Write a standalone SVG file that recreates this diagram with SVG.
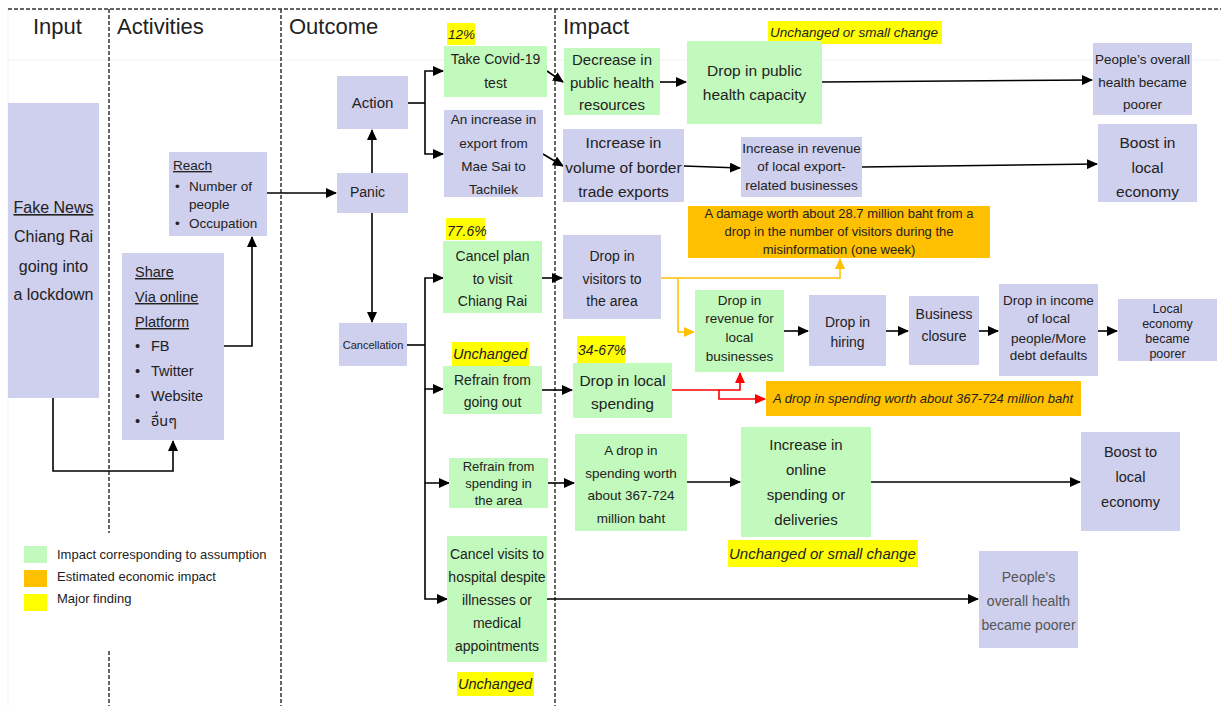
<svg xmlns="http://www.w3.org/2000/svg" width="1221" height="706" viewBox="0 0 1221 706">
<style>
text{font-family:"Liberation Sans","Noto Sans",sans-serif;fill:#222}
.m{text-anchor:middle}
.it{font-style:italic}
.u{text-decoration:underline}
.p{fill:#CFCFEE}
.g{fill:#C2F9BC}
.o{fill:#FFC000}
.y{fill:#FFFF00}
.d{stroke:#333;stroke-width:1.5;stroke-dasharray:4 2;fill:none}
.f{stroke:#f2f2f2;stroke-width:1;fill:none}
.k{stroke:#000;stroke-width:1.6;fill:none;marker-end:url(#ak)}
.ko{stroke:#000;stroke-width:1.6;fill:none}
.or{stroke:#FFC000;stroke-width:1.6;fill:none;marker-end:url(#ao)}
.ok{stroke:#FFC000;stroke-width:1.6;fill:none}
.r{stroke:#FF0000;stroke-width:1.6;fill:none;marker-end:url(#ar)}
.h{font-size:22px}
</style>
<defs>
<marker id="ak" markerUnits="userSpaceOnUse" markerWidth="11" markerHeight="10" refX="10" refY="5" orient="auto"><path d="M0,0 L11,5 L0,10 z" fill="#000"/></marker>
<marker id="ao" markerUnits="userSpaceOnUse" markerWidth="11" markerHeight="10" refX="10" refY="5" orient="auto"><path d="M0,0 L11,5 L0,10 z" fill="#FFC000"/></marker>
<marker id="ar" markerUnits="userSpaceOnUse" markerWidth="11" markerHeight="10" refX="10" refY="5" orient="auto"><path d="M0,0 L11,5 L0,10 z" fill="#FF0000"/></marker>
</defs>
<rect width="1221" height="706" fill="#fff"/>
<g id="grid">
<path class="f" d="M8,60 H1221 M8,9 V706"/>
<path class="d" d="M8,9 H1221"/>
<path class="d" d="M109,9 V533 M109,651 V706"/>
<path class="d" d="M281,9 V706"/>
<path class="d" d="M555,9 V706"/>
<text class="h" x="33" y="34">Input</text>
<text class="h" x="117" y="34">Activities</text>
<text class="h" x="289" y="34">Outcome</text>
<text class="h" x="563" y="34">Impact</text>
</g>
<g id="legend">
<rect class="g" x="24" y="546" width="23" height="17"/>
<rect class="o" x="24" y="570" width="23" height="17"/>
<rect class="y" x="24" y="594" width="23" height="17"/>
<text x="57" y="559" font-size="13">Impact corresponding to assumption</text>
<text x="57" y="581" font-size="13">Estimated economic impact</text>
<text x="57" y="603" font-size="13">Major finding</text>
</g>
<g id="connectors">
<path class="k" d="M53,398 V471 H173 V441"/>
<path class="k" d="M224,346 H252 V237"/>
<path class="k" d="M267,193 H336"/>
<path class="k" d="M372,173 V130"/>
<path class="k" d="M372,213 V322"/>
<path class="ko" d="M408,103 H425"/>
<path class="k" d="M425,103 V71 H443"/>
<path class="k" d="M425,103 V154 H443"/>
<path class="k" d="M547,71 L563,82"/>
<path class="k" d="M543,154 L563,166"/>
<path class="k" d="M660,82 H686"/>
<path class="k" d="M822,82 L1092,80"/>
<path class="k" d="M684,166 L740,168"/>
<path class="k" d="M862,167 L1097,164"/>
<path class="ko" d="M407,345 H425"/>
<path class="k" d="M425,345 V278 H443"/>
<path class="k" d="M425,345 V389 H443"/>
<path class="k" d="M425,389 V483 H449"/>
<path class="k" d="M425,483 V599 H447"/>
<path class="k" d="M542,278 H562"/>
<path class="or" d="M661,278 H840 V259"/>
<path class="ok" d="M678,278 V332"/>
<path class="or" d="M678,332 H694"/>
<path class="k" d="M784,331 H808"/>
<path class="k" d="M886,331 H908"/>
<path class="k" d="M979,331 H998"/>
<path class="k" d="M1098,331 H1117"/>
<path class="k" d="M542,390 H572"/>
<path class="r" d="M672,390 H740 V373"/>
<path class="r" d="M719,390 V399 H765"/>
<path class="k" d="M548,483 H574"/>
<path class="k" d="M687,482 H740"/>
<path class="k" d="M871,482 H1080"/>
<path class="k" d="M547,599 H978"/>
</g>
<g id="fake-news">
<rect class="p" x="8" y="103" width="91" height="295"/>
<text class="m u" x="53.5" y="213" font-size="16">Fake News</text>
<text class="m" x="53.5" y="242" font-size="16">Chiang Rai</text>
<text class="m" x="53.5" y="272" font-size="16">going into</text>
<text class="m" x="53.5" y="300" font-size="16">a lockdown</text>
</g>
<g id="reach">
<rect class="p" x="169" y="152" width="98" height="84"/>
<text class="u" x="173" y="170" font-size="13.5">Reach</text>
<text x="175" y="191" font-size="13.5">•</text>
<text x="189" y="191" font-size="13.5">Number of</text>
<text x="189" y="209" font-size="13.5">people</text>
<text x="175" y="228" font-size="13.5">•</text>
<text x="189" y="228" font-size="13.5">Occupation</text>
</g>
<g id="share">
<rect class="p" x="122" y="253" width="102" height="187"/>
<text class="u" x="135" y="277" font-size="14.5">Share</text>
<text class="u" x="135" y="302" font-size="14.5">Via online</text>
<text class="u" x="135" y="327" font-size="14.5">Platform</text>
<text x="135" y="351" font-size="14.5">•</text>
<text x="151" y="351" font-size="14.5">FB</text>
<text x="135" y="376" font-size="14.5">•</text>
<text x="151" y="376" font-size="14.5">Twitter</text>
<text x="135" y="401" font-size="14.5">•</text>
<text x="151" y="401" font-size="14.5">Website</text>
<text x="135" y="426" font-size="14.5">•</text>
<text x="151" y="426" font-size="14.5" style="font-family:'Noto Sans Thai','Liberation Sans',sans-serif">อื่นๆ</text>
</g>
<g id="action">
<rect class="p" x="337" y="76" width="71" height="53"/>
<text class="m" x="372.5" y="108" font-size="15">Action</text>
</g>
<g id="panic">
<rect class="p" x="337" y="173" width="71" height="40"/>
<text x="350" y="197" font-size="14">Panic</text>
</g>
<g id="cancellation">
<rect class="p" x="339" y="323" width="68" height="43"/>
<text class="m" x="373" y="349" font-size="11">Cancellation</text>
</g>
<g id="covid-test">
<rect class="y" x="447" y="23" width="28" height="22"/>
<text class="it" x="448" y="39" font-size="13.5">12%</text>
<rect class="g" x="444" y="46" width="103" height="51"/>
<text class="m" x="495.5" y="64" font-size="14">Take Covid-19</text>
<text class="m" x="495.5" y="88" font-size="14">test</text>
</g>
<g id="export">
<rect class="p" x="444" y="110" width="99" height="87"/>
<text class="m" x="493.5" y="124" font-size="13.5">An increase in</text>
<text class="m" x="493.5" y="148" font-size="13.5">export from</text>
<text class="m" x="493.5" y="171" font-size="13.5">Mae Sai to</text>
<text class="m" x="493.5" y="194" font-size="13.5">Tachilek</text>
</g>
<g id="decrease-resources">
<rect class="g" x="564" y="48" width="96" height="67"/>
<text class="m" x="612" y="65" font-size="15">Decrease in</text>
<text class="m" x="612" y="88" font-size="15">public health</text>
<text class="m" x="612" y="110" font-size="15">resources</text>
</g>
<g id="drop-capacity">
<rect class="y" x="768" y="21" width="174" height="23"/>
<text class="it" x="770" y="37" font-size="13.5">Unchanged or  small change</text>
<rect class="g" x="687" y="41" width="135" height="83"/>
<text class="m" x="754.5" y="76" font-size="15.5">Drop in public</text>
<text class="m" x="754.5" y="100" font-size="15.5">health capacity</text>
</g>
<g id="health-poorer-1">
<rect class="p" x="1093" y="43" width="99" height="72"/>
<text class="m" x="1142.5" y="64" font-size="13.5">People’s overall</text>
<text class="m" x="1142.5" y="87" font-size="13.5">health became</text>
<text class="m" x="1142.5" y="109" font-size="13.5">poorer</text>
</g>
<g id="border-exports">
<rect class="p" x="563" y="129" width="121" height="73"/>
<text class="m" x="623.5" y="148" font-size="15.5">Increase in</text>
<text class="m" x="623.5" y="173" font-size="15.5">volume of border</text>
<text class="m" x="623.5" y="197" font-size="15.5">trade exports</text>
</g>
<g id="export-revenue">
<rect class="p" x="741" y="137" width="121" height="60"/>
<text class="m" x="801.5" y="153" font-size="13.5">Increase in revenue</text>
<text class="m" x="801.5" y="171" font-size="13.5">of local export-</text>
<text class="m" x="801.5" y="190" font-size="13.5">related businesses</text>
</g>
<g id="boost-in">
<rect class="p" x="1098" y="124" width="99" height="78"/>
<text class="m" x="1147.5" y="148" font-size="15.5">Boost in</text>
<text class="m" x="1147.5" y="173" font-size="15.5">local</text>
<text class="m" x="1147.5" y="197" font-size="15.5">economy</text>
</g>
<g id="damage">
<rect class="o" x="688" y="206" width="302" height="52"/>
<text class="m" x="839" y="218" font-size="13">A damage worth about 28.7 million baht from a</text>
<text class="m" x="839" y="236" font-size="13">drop in the number of visitors during the</text>
<text class="m" x="839" y="254" font-size="13">misinformation (one week)</text>
</g>
<g id="cancel-plan">
<rect class="y" x="446" y="218" width="39" height="22"/>
<text class="it" x="447" y="236" font-size="14">77.6%</text>
<rect class="g" x="443" y="241" width="99" height="72"/>
<text class="m" x="492.5" y="261" font-size="14">Cancel plan</text>
<text class="m" x="492.5" y="284" font-size="14">to visit</text>
<text class="m" x="492.5" y="306" font-size="14">Chiang Rai</text>
</g>
<g id="drop-visitors">
<rect class="p" x="563" y="235" width="98" height="84"/>
<text class="m" x="612" y="261" font-size="14">Drop in</text>
<text class="m" x="612" y="284" font-size="14">visitors to</text>
<text class="m" x="612" y="306" font-size="14">the area</text>
</g>
<g id="drop-revenue">
<rect class="g" x="695" y="290" width="89" height="82"/>
<text class="m" x="739.5" y="305" font-size="13.5">Drop in</text>
<text class="m" x="739.5" y="323" font-size="13.5">revenue for</text>
<text class="m" x="739.5" y="342" font-size="13.5">local</text>
<text class="m" x="739.5" y="361" font-size="13.5">businesses</text>
</g>
<g id="drop-hiring">
<rect class="p" x="809" y="295" width="77" height="71"/>
<text class="m" x="847.5" y="327" font-size="14">Drop in</text>
<text class="m" x="847.5" y="347" font-size="14">hiring</text>
</g>
<g id="business-closure">
<rect class="p" x="909" y="296" width="70" height="69"/>
<text class="m" x="944" y="319" font-size="14">Business</text>
<text class="m" x="944" y="341" font-size="14">closure</text>
</g>
<g id="drop-income">
<rect class="p" x="999" y="284" width="99" height="92"/>
<text class="m" x="1048.5" y="305" font-size="13.5">Drop in income</text>
<text class="m" x="1048.5" y="323" font-size="13.5">of local</text>
<text class="m" x="1048.5" y="343" font-size="13.5">people/More</text>
<text class="m" x="1048.5" y="360" font-size="13.5">debt defaults</text>
</g>
<g id="local-poorer">
<rect class="p" x="1118" y="299" width="99" height="62"/>
<text class="m" x="1167.5" y="313" font-size="12.5">Local</text>
<text class="m" x="1167.5" y="328" font-size="12.5">economy</text>
<text class="m" x="1167.5" y="343" font-size="12.5">became</text>
<text class="m" x="1167.5" y="358" font-size="12.5">poorer</text>
</g>
<g id="refrain-out">
<rect class="y" x="452" y="342" width="77" height="25"/>
<text class="it" x="453" y="359" font-size="14.5">Unchanged</text>
<rect class="g" x="443" y="366" width="99" height="48"/>
<text class="m" x="492.5" y="385" font-size="14">Refrain from</text>
<text class="m" x="492.5" y="407" font-size="14">going out</text>
</g>
<g id="drop-local-spending">
<rect class="y" x="577" y="336" width="48" height="27"/>
<text class="it" x="578" y="355" font-size="14">34-67%</text>
<rect class="g" x="573" y="363" width="99" height="55"/>
<text class="m" x="622.5" y="386" font-size="15.5">Drop in local</text>
<text class="m" x="622.5" y="409" font-size="15.5">spending</text>
</g>
<g id="spending-impact">
<rect class="o" x="766" y="381" width="315" height="35"/>
<text class="m it" x="923" y="403" font-size="13">A drop in spending worth about 367-724 million  baht</text>
</g>
<g id="refrain-spending">
<rect class="g" x="449" y="458" width="99" height="50"/>
<text class="m" x="498.5" y="471" font-size="13">Refrain from</text>
<text class="m" x="498.5" y="488" font-size="13">spending in</text>
<text class="m" x="498.5" y="505" font-size="13">the area</text>
</g>
<g id="drop-spending-worth">
<rect class="g" x="575" y="434" width="112" height="97"/>
<text class="m" x="631" y="455" font-size="13.5">A drop in</text>
<text class="m" x="631" y="478" font-size="13.5">spending worth</text>
<text class="m" x="631" y="500" font-size="13.5">about 367-724</text>
<text class="m" x="631" y="523" font-size="13.5">million baht</text>
</g>
<g id="online-spending">
<rect class="g" x="741" y="427" width="130" height="110"/>
<text class="m" x="806" y="450" font-size="15">Increase in</text>
<text class="m" x="806" y="475" font-size="15">online</text>
<text class="m" x="806" y="500" font-size="15">spending or</text>
<text class="m" x="806" y="525" font-size="15">deliveries</text>
<rect class="y" x="728" y="540" width="190" height="27"/>
<text class="it" x="729" y="559" font-size="15">Unchanged or  small change</text>
</g>
<g id="boost-to">
<rect class="p" x="1081" y="432" width="99" height="99"/>
<text class="m" x="1130.5" y="457" font-size="14.5">Boost to</text>
<text class="m" x="1130.5" y="482" font-size="14.5">local</text>
<text class="m" x="1130.5" y="507" font-size="14.5">economy</text>
</g>
<g id="cancel-hospital">
<rect class="g" x="447" y="536" width="100" height="126"/>
<text class="m" x="497" y="559" font-size="14">Cancel visits to</text>
<text class="m" x="497" y="582" font-size="14">hospital despite</text>
<text class="m" x="497" y="605" font-size="14">illnesses or</text>
<text class="m" x="497" y="628" font-size="14">medical</text>
<text class="m" x="497" y="651" font-size="14">appointments</text>
<rect class="y" x="457" y="672" width="77" height="24"/>
<text class="it" x="458" y="689" font-size="14.5">Unchanged</text>
</g>
<g id="health-poorer-2">
<rect class="p" x="979" y="551" width="99" height="97"/>
<text class="m" x="1028.5" y="582" font-size="14" style="fill:#555">People’s</text>
<text class="m" x="1028.5" y="606" font-size="14" style="fill:#555">overall health</text>
<text class="m" x="1028.5" y="630" font-size="14" style="fill:#555">became poorer</text>
</g>
</svg>
